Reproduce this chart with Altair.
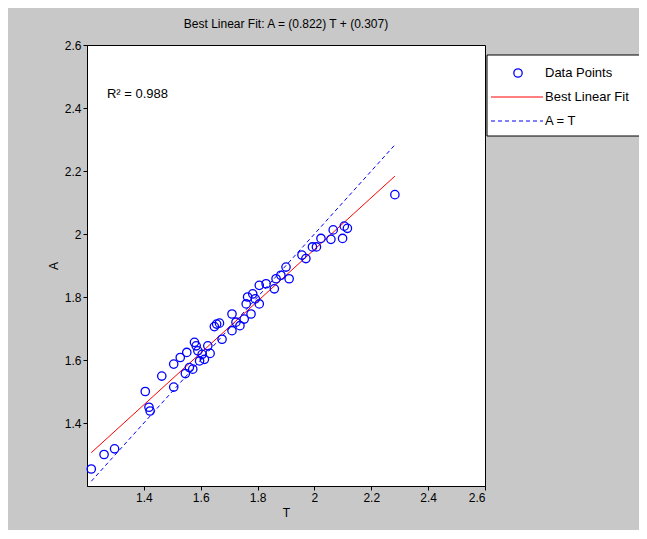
import altair as alt
import pandas as pd

t_vals = [1.215, 1.26, 1.297, 1.405, 1.418, 1.422, 1.463, 1.505, 1.505, 1.528,
          1.551, 1.546, 1.56, 1.572, 1.578, 1.584, 1.59, 1.596, 1.605, 1.613,
          1.625, 1.633, 1.648, 1.656, 1.666, 1.675, 1.71, 1.71, 1.724, 1.738,
          1.753, 1.76, 1.765, 1.777, 1.783, 1.792, 1.806, 1.806, 1.83, 1.859,
          1.865, 1.882, 1.90, 1.911, 1.956, 1.97, 1.993, 2.007, 2.023, 2.058,
          2.066, 2.099, 2.105, 2.116, 2.283]
a_vals = [1.254, 1.30, 1.318, 1.50, 1.45, 1.438, 1.549, 1.514, 1.587, 1.608,
          1.624, 1.557, 1.576, 1.571, 1.656, 1.645, 1.629, 1.597, 1.618, 1.602,
          1.645, 1.621, 1.706, 1.714, 1.717, 1.666, 1.746, 1.693, 1.72, 1.709,
          1.73, 1.778, 1.80, 1.746, 1.81, 1.794, 1.778, 1.837, 1.842, 1.826,
          1.858, 1.869, 1.895, 1.858, 1.933, 1.922, 1.959, 1.959, 1.986, 1.983,
          2.013, 1.986, 2.025, 2.018, 2.125]
slope, intercept = 0.822, 0.307
series = ["Data Points", "Best Linear Fit", "A = T"]

t_min, t_max = min(t_vals), max(t_vals)
pts = pd.DataFrame({"T": t_vals, "A": a_vals})
fit = pd.DataFrame({"T": [t_min, t_max],
                    "A": [slope * t_min + intercept, slope * t_max + intercept]})
ident = pd.DataFrame({"T": [t_min, t_max], "A": [t_min, t_max]})

FONT = "Liberation Sans"
xs = alt.Scale(domain=[1.2, 2.6], nice=False)
ys = alt.Scale(domain=[1.2, 2.6], nice=False)
ticks = [1.4, 1.6, 1.8, 2.0, 2.2, 2.4, 2.6]

x = alt.X("T:Q", scale=xs, axis=alt.Axis(values=ticks, format=".1~f", title="T"))
y = alt.Y("A:Q", scale=ys, axis=alt.Axis(values=ticks, format=".1~f", title="A"))

points = alt.Chart(pts).mark_point(shape="circle", filled=False, size=70, strokeWidth=1.3,
                                   color="blue", opacity=1).encode(x=x, y=y)
fit_line = alt.Chart(fit).mark_line(strokeWidth=1, color="red").encode(x=x, y=y)
id_line = alt.Chart(ident).mark_line(strokeWidth=1, strokeDash=[4, 3], color="blue").encode(x=x, y=y)
r2 = alt.Chart(pd.DataFrame({"T": [1.27], "A": [2.445], "txt": ["R² = 0.988"]})).mark_text(
    align="left", font=FONT, fontSize=13, color="black").encode(x=x, y=y, text="txt:N")

# legend box drawn by hand (MATLAB style, three different symbol kinds)
box = alt.Chart().mark_rect(fill="white", stroke="black", strokeWidth=1, clip=False).encode(
    x=alt.value(400), x2=alt.value(580), y=alt.value(10), y2=alt.value(91))
leg_pt = alt.Chart().mark_point(shape="circle", filled=False, size=70, color="blue",
                                strokeWidth=1.3, opacity=1,
                                clip=False).encode(x=alt.value(431), y=alt.value(28))
leg_fit = alt.Chart().mark_rule(color="red", clip=False).encode(
    x=alt.value(404), x2=alt.value(456), y=alt.value(52))
leg_id = alt.Chart().mark_rule(color="blue", strokeDash=[4, 3], clip=False).encode(
    x=alt.value(404), x2=alt.value(456), y=alt.value(76))
leg_txt = [
    alt.Chart().mark_text(text=s, align="left", baseline="middle", font=FONT, fontSize=13,
                          color="black", clip=False).encode(x=alt.value(458), y=alt.value(yy))
    for s, yy in zip(series, [28, 52, 76])
]

chart = alt.layer(id_line, fit_line, points, r2, box, leg_pt, leg_fit, leg_id, *leg_txt).properties(
    width=398, height=441,
    title=alt.Title("Best Linear Fit:  A = (0.822) T + (0.307)", font=FONT, fontSize=12,
                    fontWeight="normal", color="black", offset=8),
    background="#c8c8c8",
    padding={"left": 79, "top": 37, "right": 154, "bottom": 44},
    autosize="none",
).configure_view(fill="white", stroke="black", strokeWidth=1).configure_axis(
    labelFont=FONT, labelFontSize=12, labelColor="black", titleFont=FONT,
    titleFontSize=12, titleFontWeight="normal", titleColor="black",
    domainColor="black", tickColor="black", grid=False, tickSize=4,
)

chart.save("out.html", embed_options={"renderer": "svg", "actions": False})
